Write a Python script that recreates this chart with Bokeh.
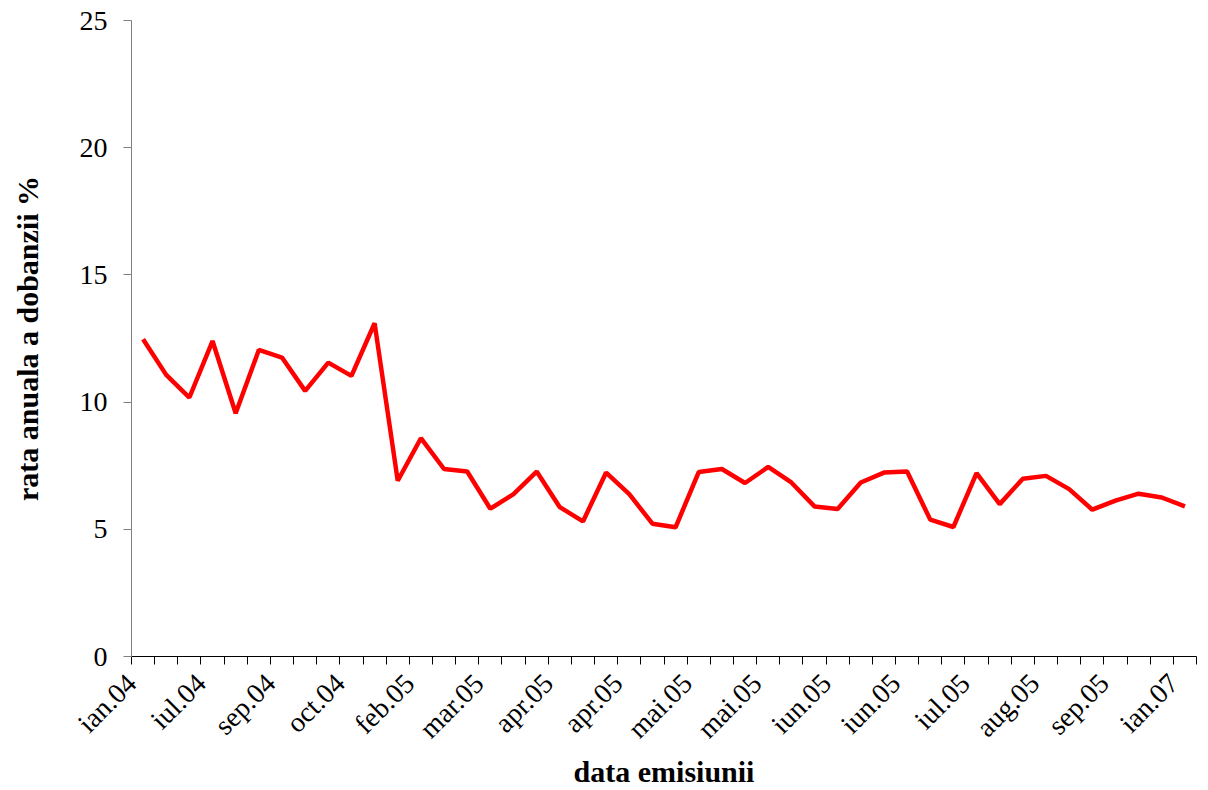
import math
from bokeh.plotting import figure
from bokeh.models import FixedTicker, Range1d, ColumnDataSource, CustomJSTickFormatter
from bokeh.embed import file_html
from bokeh.resources import INLINE

tick_labels = ["ian.04", "iul.04", "sep.04", "oct.04", "feb.05", "mar.05",
               "apr.05", "apr.05", "mai.05", "mai.05", "iun.05", "iun.05",
               "iul.05", "aug.05", "sep.05", "ian.07"]
label_step = 3
values = [12.47, 11.07, 10.18, 12.40, 9.56, 12.05, 11.75, 10.44, 11.55, 11.03,
          13.10, 6.91, 8.58, 7.37, 7.27, 5.81, 6.38, 7.27, 5.87, 5.31,
          7.23, 6.38, 5.22, 5.08, 7.25, 7.37, 6.82, 7.45, 6.84, 5.90,
          5.80, 6.84, 7.23, 7.27, 5.38, 5.09, 7.21, 5.99, 6.99, 7.10,
          6.58, 5.77, 6.13, 6.40, 6.25, 5.90]
y_ticks = [0, 5, 10, 15, 20, 25]

n = len(values)
src = ColumnDataSource(dict(x=list(range(n)), y=values))

p = figure(width=1200, height=790, output_backend="svg", toolbar_location=None,
           x_range=Range1d(-0.5, n - 0.5), y_range=Range1d(0, 25),
           min_border_left=131, min_border_right=4, min_border_top=20,
           min_border_bottom=133)
p.outline_line_color = None
p.grid.visible = False

p.line("x", "y", source=src, line_color="#FF0000", line_width=4.5)

FONT = "Liberation Serif"
shift = 0.5  # label anchor offset (in categories)

xt = FixedTicker(ticks=[i * label_step - shift for i in range(len(tick_labels))],
                 minor_ticks=[i - 0.5 for i in range(n + 1)])
xa = p.xaxis[0]
xa.ticker = xt
xa.formatter = CustomJSTickFormatter(
    args=dict(labels=tick_labels, step=label_step, shift=shift),
    code="const i = Math.round((tick + shift) / step); return labels[i] || '';")
xa.major_label_orientation = math.pi / 4
xa.major_tick_out = 0
xa.major_tick_in = 0
xa.minor_tick_out = 8
xa.minor_tick_in = 0
xa.minor_tick_line_color = "black"
xa.axis_line_color = "black"
xa.major_label_text_font = FONT
xa.major_label_text_font_size = "28px"
xa.major_label_text_color = "black"
xa.major_label_standoff = 14
xa.axis_label = "data emisiunii"
xa.axis_label_text_font = FONT
xa.axis_label_text_font_style = "bold"
xa.axis_label_text_font_size = "30px"
xa.axis_label_text_color = "black"
xa.axis_label_standoff = -3

ya = p.yaxis[0]
ya.ticker = FixedTicker(ticks=y_ticks)
ya.minor_tick_line_color = None
ya.major_tick_out = 8
ya.major_tick_in = 0
ya.major_tick_line_color = "#808080"
ya.axis_line_color = "#808080"
ya.major_label_text_font = FONT
ya.major_label_text_font_size = "28px"
ya.major_label_text_color = "black"
ya.major_label_standoff = 16
ya.axis_label = "rata anuala a dobanzii %"
ya.axis_label_text_font = FONT
ya.axis_label_text_font_style = "bold"
ya.axis_label_text_font_size = "30px"
ya.axis_label_text_color = "black"
ya.axis_label_standoff = 33

open("out.html", "w").write(file_html(p, INLINE))
